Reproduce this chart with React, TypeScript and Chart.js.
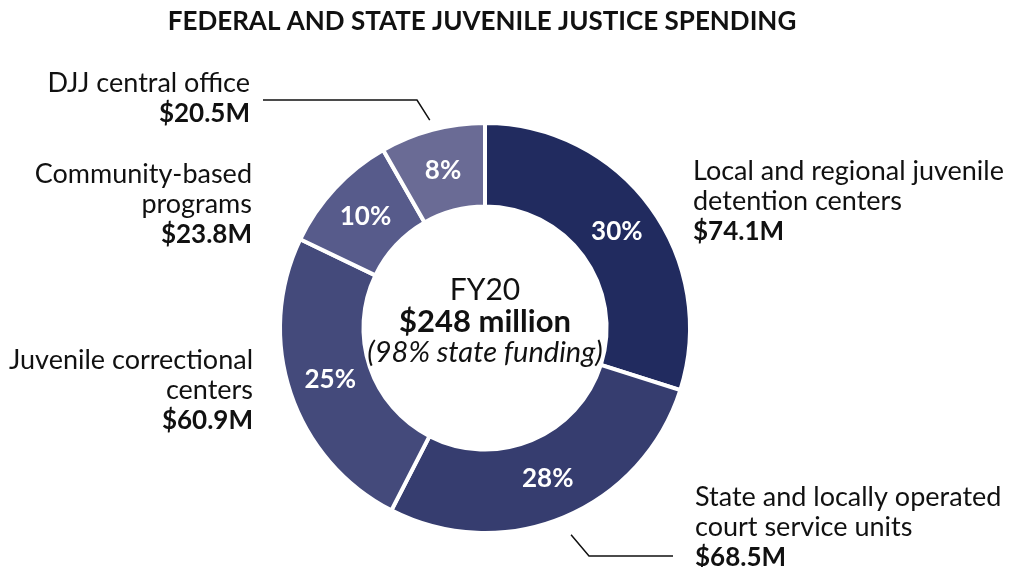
import React, { useEffect, useRef } from "react";
import { Chart, registerables } from "chart.js";

Chart.register(...registerables);

// ---------- data ----------
const categories = [
  "Local and regional juvenile detention centers",
  "State and locally operated court service units",
  "Juvenile correctional centers",
  "Community-based programs",
  "DJJ central office",
];
const values = [74.1, 68.5, 60.9, 23.8, 20.5];
const labelLines = [
  ["Local and regional juvenile", "detention centers"],
  ["State and locally operated", "court service units"],
  ["Juvenile correctional", "centers"],
  ["Community-based", "programs"],
  ["DJJ central office"],
];
const titleText = "FEDERAL AND STATE JUVENILE JUSTICE SPENDING";
const centerYear = "FY20";
const centerTotal = "$248 million";
const centerNote = "(98% state funding)";

// ---------- styles / layout ----------
const colors = ["#212b5f", "#363d6f", "#444a7b", "#575b8b", "#6a6b95"];
const W = 1009;
const H = 567;
const CX = 485;
const CY = 328;
const FONT = "Lato, 'Open Sans', sans-serif";
const TEXT = "#111111";

const labelLayout = [
  { x: 693, y: 180, align: "left" },
  { x: 695, y: 506, align: "left" },
  { x: 253, y: 369, align: "right" },
  { x: 252, y: 183, align: "right" },
  { x: 250, y: 92, align: "right" },
];
const LINE_H = 30;

// leader lines: arc index, radial offset beyond outer edge, elbow point, end x
const leaders = [
  { index: 4, off: 10, elbow: [417, 100], endX: 263 },
  { index: 1, off: 19, elbow: [589, 556], endX: 673 },
];

const overlayPlugin = {
  id: "overlay",
  afterDraw(chart: any) {
    const ctx = chart.ctx as CanvasRenderingContext2D;
    const meta = chart.getDatasetMeta(0);
    const total = values.reduce((a, b) => a + b, 0);
    ctx.save();

    // title
    ctx.fillStyle = TEXT;
    ctx.textAlign = "center";
    ctx.textBaseline = "alphabetic";
    ctx.font = `bold 26px ${FONT}`;
    ctx.fillText(titleText, 482, 30);

    // percent labels inside the arcs
    meta.data.forEach((arc: any, i: number) => {
      const p = arc.getProps(["x", "y", "startAngle", "endAngle", "innerRadius", "outerRadius"], true);
      const mid = (p.startAngle + p.endAngle) / 2;
      const r = (p.innerRadius + p.outerRadius) / 2;
      const x = p.x + Math.cos(mid) * r;
      const y = p.y + Math.sin(mid) * r;
      ctx.fillStyle = "#ffffff";
      ctx.font = `bold 26px ${FONT}`;
      ctx.textAlign = "center";
      ctx.textBaseline = "middle";
      ctx.fillText(Math.round((values[i] / total) * 100) + "%", x, y);
    });

    // outside labels
    ctx.textBaseline = "alphabetic";
    labelLayout.forEach((lay, i) => {
      ctx.fillStyle = TEXT;
      ctx.textAlign = lay.align as CanvasTextAlign;
      let y = lay.y;
      ctx.font = `27px ${FONT}`;
      labelLines[i].forEach((ln) => {
        ctx.fillText(ln, lay.x, y);
        y += LINE_H;
      });
      ctx.font = `bold 26px ${FONT}`;
      ctx.fillText("$" + values[i].toFixed(1) + "M", lay.x, y);
    });

    // leader lines
    ctx.strokeStyle = "#111111";
    ctx.lineWidth = 1.5;
    leaders.forEach((ld) => {
      const arc: any = meta.data[ld.index];
      const p = arc.getProps(["x", "y", "startAngle", "endAngle", "outerRadius"], true);
      const mid = (p.startAngle + p.endAngle) / 2;
      const r = p.outerRadius + ld.off;
      const sx = p.x + Math.cos(mid) * r;
      const sy = p.y + Math.sin(mid) * r;
      ctx.beginPath();
      ctx.moveTo(sx, sy);
      ctx.lineTo(ld.elbow[0], ld.elbow[1]);
      ctx.lineTo(ld.endX, ld.elbow[1]);
      ctx.stroke();
    });

    // center text
    ctx.fillStyle = TEXT;
    ctx.textAlign = "center";
    ctx.font = `30px ${FONT}`;
    ctx.fillText(centerYear, CX, 300);
    ctx.font = `bold 31px ${FONT}`;
    ctx.fillText(centerTotal, CX, 332);
    ctx.font = `italic 29px ${FONT}`;
    ctx.fillText(centerNote, CX, 362);

    ctx.restore();
  },
};

export default function App() {
  const ref = useRef<HTMLCanvasElement>(null);
  useEffect(() => {
    if (!ref.current) return;
    const chart = new Chart(ref.current, {
      type: "doughnut",
      data: {
        labels: categories,
        datasets: [
          {
            data: values,
            backgroundColor: colors,
            borderColor: "#ffffff",
            borderWidth: 4,
            radius: 205,
            cutout: 134,
          } as any,
        ],
      },
      options: {
        responsive: false,
        maintainAspectRatio: false,
        animation: false,
        devicePixelRatio: 1,
        layout: { padding: { left: CX - 405, right: W - (CX + 405), top: CY - 228, bottom: H - (CY + 228) } },
        plugins: { legend: { display: false }, tooltip: { enabled: false }, title: { display: false } },
      },
      plugins: [overlayPlugin],
    });
    return () => chart.destroy();
  }, []);
  return (
    <div style={{ position: "absolute", left: 0, top: 0, width: W, height: H, background: "#ffffff" }}>
      <canvas ref={ref} width={W} height={H} style={{ display: "block" }} />
    </div>
  );
}
